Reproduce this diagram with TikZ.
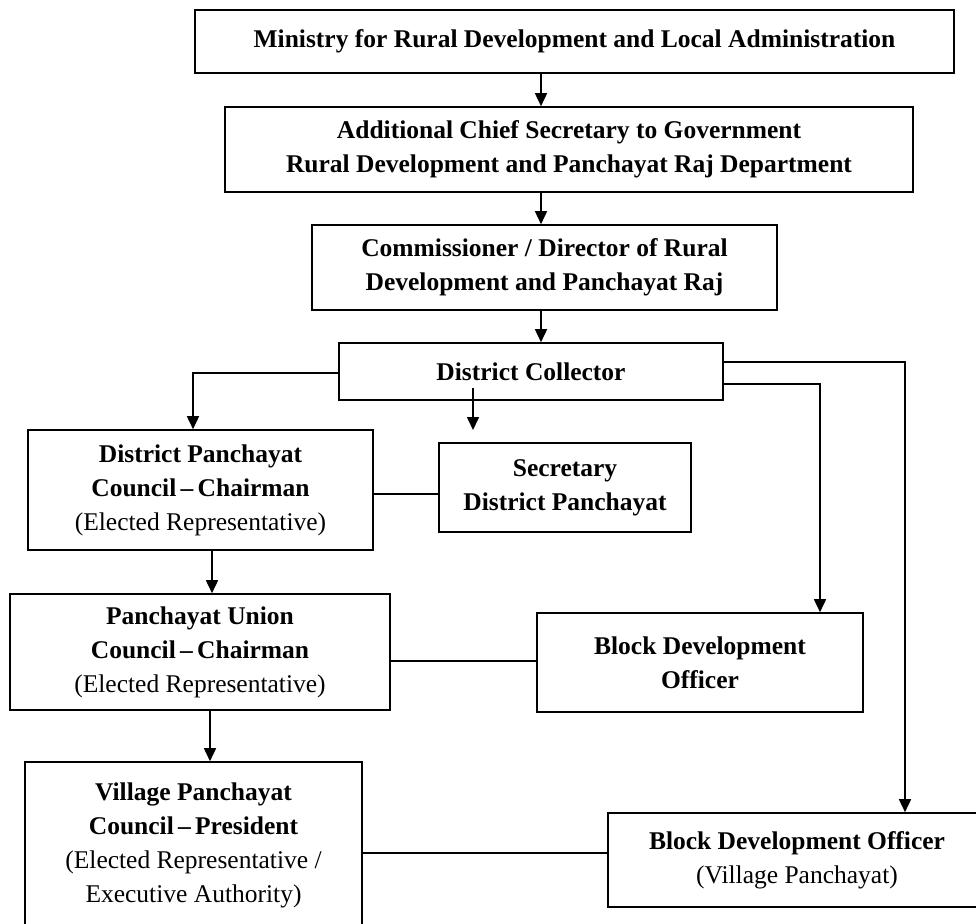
\documentclass[tikz,border=0pt]{standalone}
\usepackage{fontspec}
\setmainfont{Liberation Serif}
\usetikzlibrary{arrows.meta}
\begin{document}
\begin{tikzpicture}[x=1pt,y=-1pt,
  box/.style={draw,line width=1.6pt,inner sep=0pt,align=center,
    font=\fontsize{25.5}{34}\selectfont\bfseries},
  link/.style={line width=1.6pt},
  arr/.style={line width=1.6pt,-{Triangle[length=13pt,width=12pt]}}]
\useasboundingbox (0,0) rectangle (976,923);
\node[box,minimum width=759pt,minimum height=63pt] (b1) at (574.5,41.5)
  {Ministry for Rural Development and Local Administration};
\node[box,minimum width=688pt,minimum height=85pt] (b2) at (569,149.5)
  {Additional Chief Secretary to Government\\Rural Development and Panchayat Raj Department};
\node[box,minimum width=465pt,minimum height=85pt] (b3) at (544.5,267.5)
  {Commissioner / Director of Rural\\Development and Panchayat Raj};
\node[box,minimum width=384pt,minimum height=57pt] (b4) at (531,371.5)
  {District Collector};
\node[box,minimum width=345pt,minimum height=120pt] (b5) at (200.5,490)
  {District Panchayat\\Council\,–\,Chairman\\{\mdseries(Elected Representative)}};
\node[box,minimum width=252pt,minimum height=89pt] (b6) at (565,487.5)
  {Secretary\\District Panchayat};
\node[box,minimum width=380pt,minimum height=116pt] (b7) at (200,652)
  {Panchayat Union\\Council\,–\,Chairman\\{\mdseries(Elected Representative)}};
\node[box,minimum width=326pt,minimum height=99pt] (b8) at (700,662.5)
  {Block Development\\Officer};
\node[box,minimum width=337pt,minimum height=166pt] (b9) at (193.5,845)
  {Village Panchayat\\Council\,–\,President\\{\mdseries(Elected Representative /}\\{\mdseries Executive Authority)}};
\node[box,minimum width=378pt,minimum height=94pt] (b10) at (797,860)
  {Block Development Officer\\{\mdseries(Village Panchayat)}};
% helper coordinates for connector columns
\coordinate (cS) at (541,0);
\coordinate (cL) at (193,0);
\coordinate (mTip) at (473,430);
\coordinate (cR1) at (820,0);
\coordinate (cR2) at (905,0);
\coordinate (cA) at (212,0);
\coordinate (cB) at (210,0);
% vertical stack
\draw[arr] (b1.south -| cS) -- (b2.north -| cS);
\draw[arr] (b2.south -| cS) -- (b3.north -| cS);
\draw[arr] (b3.south -| cS) -- (b4.north -| cS);
% from District Collector
\draw[arr] ([yshift=-1.5pt]b4.west) -| (b5.north -| cL);
\draw[arr] ([yshift=13pt]b4.south -| mTip) -- (mTip);
\draw[arr] ([yshift=-12.5pt]b4.east) -| (b8.north -| cR1);
\draw[arr] ([yshift=9.5pt]b4.east) -| (b10.north -| cR2);
% left column
\draw[link] ([yshift=-6.5pt]b6.west) -- ([yshift=-6.5pt]b6.west -| b5.east);
\draw[arr] (b5.south -| cA) -- (b7.north -| cA);
\draw[link] ([yshift=1.5pt]b8.west) -- ([yshift=1.5pt]b8.west -| b7.east);
\draw[arr] (b7.south -| cB) -- (b9.north -| cB);
\draw[link] ([yshift=7pt]b10.west) -- ([yshift=7pt]b10.west -| b9.east);
\end{tikzpicture}
\end{document}
